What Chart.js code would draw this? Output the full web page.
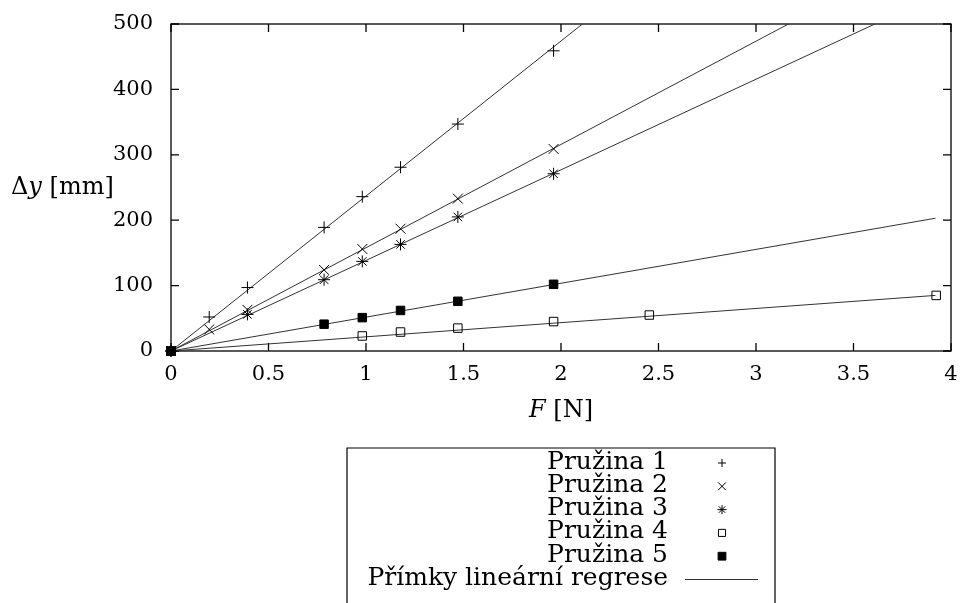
<!DOCTYPE html>
<html lang="cs">
<head>
<meta charset="UTF-8">
<title>Pružiny – závislost prodloužení na síle</title>
<script src="https://cdnjs.cloudflare.com/ajax/libs/Chart.js/4.4.1/chart.umd.min.js"></script>
<style>
  html, body { margin: 0; padding: 0; background: #fff; }
  #wrap { width: 964px; height: 603px; }
</style>
</head>
<body>
<div id="wrap"><canvas id="chart" width="964" height="603"></canvas></div>
<script>
// measured points, F [N] vs dy [mm]
const seriesNames = ['Pružina 1', 'Pružina 2', 'Pružina 3', 'Pružina 4', 'Pružina 5'];
const fitName = 'Přímky lineární regrese';

const x1 = [0, 0.196, 0.392, 0.785, 0.981, 1.177, 1.471, 1.962];
const y1 = [0, 52, 97, 189, 236, 281, 347, 459];
const x2 = [0, 0.196, 0.392, 0.785, 0.981, 1.177, 1.471, 1.962];
const y2 = [0, 33, 63, 124, 156, 187, 233, 309];
const x3 = [0, 0.392, 0.785, 0.981, 1.177, 1.471, 1.962];
const y3 = [0, 56, 109, 137, 163, 205, 271];
const x4 = [0, 0.981, 1.177, 1.471, 1.962, 2.453, 3.924];
const y4 = [0, 23, 29, 35, 45, 55, 85];
const x5 = [0, 0.785, 0.981, 1.177, 1.471, 1.962];
const y5 = [0, 41, 51, 62, 76, 102];

// regression lines, end points
const fitX = [0, 3.92];
const fit1 = [0, 929];
const fit2 = [0, 619];
const fit3 = [0, 543];
const fit4 = [0, 85];
const fit5 = [0, 203];

const xTickStep = 0.5;
const yTickStep = 100;

const INK = '#000';
const LINE = '#333';
const FONT = '"DejaVu Serif", "Liberation Serif", serif';

const pointX = [x1, x2, x3, x4, x5];
const pointY = [y1, y2, y3, y4, y5];
const fitY = [fit1, fit2, fit3, fit4, fit5];

// marker looks, plot and legend sizes
const markers = [
  { style: 'cross',    radius: 6,   legendRadius: 4,   fill: false },
  { style: 'crossRot', radius: 7,   legendRadius: 5.5, fill: false },
  { style: 'star',     radius: 6,   legendRadius: 4.5, fill: false },
  { style: 'rect',     radius: 6,   legendRadius: 5,   fill: false },
  { style: 'rect',     radius: 6,   legendRadius: 5.5, fill: true }
];

function toPoints(xs, ys) {
  return xs.map((x, i) => ({ x: x, y: ys[i] }));
}

const datasets = [];
seriesNames.forEach((name, i) => {
  const m = markers[i];
  datasets.push({
    label: name,
    data: toPoints(pointX[i], pointY[i]),
    showLine: false,
    pointStyle: m.style,
    pointRadius: m.radius,
    pointHoverRadius: m.radius,
    pointBorderWidth: 1,
    borderColor: INK,
    pointBorderColor: INK,
    pointBackgroundColor: m.fill ? INK : 'rgba(0,0,0,0)',
    clip: false
  });
});
fitY.forEach((ys, i) => {
  datasets.push({
    label: fitName,
    data: toPoints(fitX, ys),
    showLine: true,
    pointRadius: 0,
    borderColor: LINE,
    borderWidth: 1,
    fill: false
  });
});

function drawMixed(ctx, parts, x, y, size) {
  // parts: [text, italic]
  let cx = x;
  parts.forEach(p => {
    ctx.font = (p[1] ? 'italic ' : '') + size + 'px ' + FONT;
    ctx.fillText(p[0], cx, y);
    cx += ctx.measureText(p[0]).width;
  });
  return cx - x;
}

function mixedWidth(ctx, parts, size) {
  let w = 0;
  parts.forEach(p => {
    ctx.font = (p[1] ? 'italic ' : '') + size + 'px ' + FONT;
    w += ctx.measureText(p[0]).width;
  });
  return w;
}

function noEdgePadding(scale) {
  scale.paddingTop = 0;
  scale.paddingBottom = 0;
  scale.paddingLeft = 0;
  scale.paddingRight = 0;
}

const gnuplotLook = {
  id: 'gnuplotLook',
  beforeDatasetsDraw(chart) {
    const ctx = chart.ctx, a = chart.chartArea;
    const xs = chart.scales.x, ys = chart.scales.y;
    const tick = 8;
    ctx.save();
    ctx.strokeStyle = INK;
    ctx.lineWidth = 1.3;
    ctx.strokeRect(a.left, a.top, a.right - a.left, a.bottom - a.top);
    ctx.beginPath();
    xs.ticks.forEach(t => {
      const px = xs.getPixelForValue(t.value);
      ctx.moveTo(px, a.bottom); ctx.lineTo(px, a.bottom - tick);
      ctx.moveTo(px, a.top); ctx.lineTo(px, a.top + tick);
    });
    ys.ticks.forEach(t => {
      const py = ys.getPixelForValue(t.value);
      ctx.moveTo(a.left, py); ctx.lineTo(a.left + tick, py);
      ctx.moveTo(a.right, py); ctx.lineTo(a.right - tick, py);
    });
    ctx.stroke();
    ctx.restore();
  },
  afterDraw(chart) {
    const ctx = chart.ctx, a = chart.chartArea;
    ctx.save();
    ctx.fillStyle = INK;
    ctx.textBaseline = 'middle';
    ctx.textAlign = 'left';

    // axis titles
    drawMixed(ctx, [['Δ', false], ['y', true], [' [mm]', false]], 11, (a.top + a.bottom) / 2, 24);
    const xt = [['F', true], [' [N]', false]];
    const w = mixedWidth(ctx, xt, 24);
    drawMixed(ctx, xt, (a.left + a.right) / 2 - w / 2, 411, 24);

    // legend box
    const box = { left: 347, right: 775, top: 448 };
    ctx.strokeStyle = INK;
    ctx.lineWidth = 1.2;
    ctx.beginPath();
    ctx.moveTo(box.left, chart.height + 5);
    ctx.lineTo(box.left, box.top);
    ctx.lineTo(box.right, box.top);
    ctx.lineTo(box.right, chart.height + 5);
    ctx.stroke();

    const textRight = 668, markX = 722, rowY = 462, rowH = 23.3;
    ctx.font = '25px ' + FONT;
    ctx.textAlign = 'right';
    const helpers = Chart.helpers;
    seriesNames.forEach((name, i) => {
      const y = rowY + i * rowH;
      ctx.fillStyle = INK;
      ctx.fillText(name, textRight, y);
      const m = markers[i];
      ctx.save();
      ctx.strokeStyle = INK;
      ctx.fillStyle = m.fill ? INK : 'rgba(0,0,0,0)';
      ctx.lineWidth = 1;
      helpers.drawPoint(ctx, { pointStyle: m.style, radius: m.legendRadius, rotation: 0, borderWidth: 1 }, markX, y + 1);
      ctx.restore();
    });
    const fy = rowY + seriesNames.length * rowH;
    ctx.fillText(fitName, textRight, fy);
    ctx.strokeStyle = LINE;
    ctx.lineWidth = 1;
    ctx.beginPath();
    ctx.moveTo(685, fy + 1);
    ctx.lineTo(758, fy + 1);
    ctx.stroke();
    ctx.restore();
  }
};

new Chart(document.getElementById('chart'), {
  type: 'scatter',
  data: { datasets: datasets },
  options: {
    responsive: false,
    animation: false,
    layout: { padding: { top: 24, right: 13, left: 0, bottom: 0 } },
    plugins: {
      legend: { display: false },
      tooltip: { enabled: false }
    },
    scales: {
      x: {
        type: 'linear',
        min: 0,
        max: 4,
        ticks: {
          stepSize: xTickStep,
          color: INK,
          padding: 11,
          maxRotation: 0,
          font: { family: FONT, size: 21 },
          callback: v => String(v)
        },
        grid: { display: false, drawTicks: false },
        border: { display: false },
        afterFit(scale) { scale.height = 252; noEdgePadding(scale); }
      },
      y: {
        type: 'linear',
        min: 0,
        max: 500,
        ticks: {
          stepSize: yTickStep,
          color: INK,
          padding: 18,
          font: { family: FONT, size: 21 },
          callback: v => String(v)
        },
        grid: { display: false, drawTicks: false },
        border: { display: false },
        afterFit(scale) { scale.width = 171; noEdgePadding(scale); }
      }
    }
  },
  plugins: [gnuplotLook]
});
</script>
</body>
</html>
